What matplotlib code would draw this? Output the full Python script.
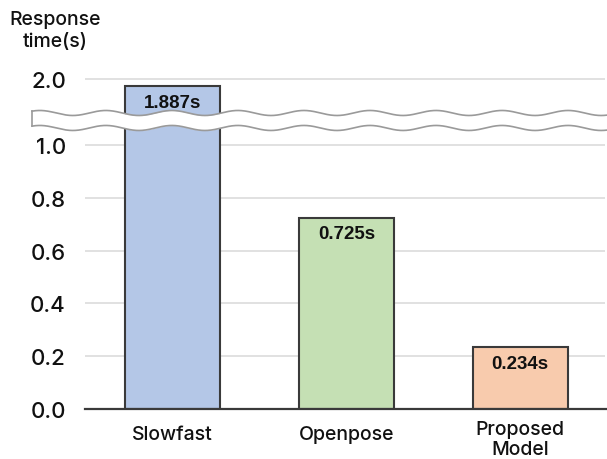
import numpy as np
import matplotlib
matplotlib.use("Agg")
import matplotlib.pyplot as plt
from matplotlib.transforms import ScaledTranslation

# data
categories = ["Slowfast", "Openpose", "Proposed\nModel"]
response_times = [1.887, 0.725, 0.234]
value_labels = ["1.887s", "0.725s", "0.234s"]
bar_colors = ["#b4c7e7", "#c5e0b4", "#f8cbad"]
y_ticks = [0.0, 0.2, 0.4, 0.6, 0.8, 1.0, 2.0]
y_tick_labels = ["0.0", "0.2", "0.4", "0.6", "0.8", "1.0", "2.0"]

# compressed upper segment above 1.0 (broken axis)
K = 0.25


def fwd(y):
    y = np.asarray(y, dtype=float)
    return np.where(y <= 1.0, y, 1.0 + (y - 1.0) * K)


def inv(t):
    t = np.asarray(t, dtype=float)
    return np.where(t <= 1.0, t, 1.0 + (t - 1.0) / K)


W, H = 607, 460
fig = plt.figure(figsize=(W / 100, H / 100), dpi=100)
ax = fig.add_axes([85 / W, 50 / H, 522 / W, 330 / H])
ax.set_yscale("function", functions=(fwd, inv))
ax.set_ylim(0, 2.0)
ax.set_xlim(-0.504, 2.5)

x = np.arange(len(categories))
ax.bar(x, response_times, width=0.547, color=bar_colors,
       edgecolor="#3a3a3a", linewidth=1.5, zorder=2)

# horizontal gridlines
for t in y_ticks[1:]:
    ax.plot([-0.504, 2.49], [t, t], color="#d9d9d9", lw=1.1,
            zorder=0, clip_on=False, solid_capstyle="butt")

# value labels inside the bars
for xi, v, lab in zip(x, response_times, value_labels):
    ax.annotate(lab, (xi, v), xytext=(0, -11.5), textcoords="offset points",
                ha="center", va="center", fontsize=13.5, fontweight="bold",
                family="Liberation Sans", color="#111111", zorder=2.5)

# axis styling
for s in ["left", "top", "right"]:
    ax.spines[s].set_visible(False)
ax.spines["bottom"].set_color("#3a3a3a")
ax.spines["bottom"].set_linewidth(1.6)
ax.spines["bottom"].set_zorder(3)

ax.set_yticks(y_ticks)
ax.set_yticklabels(y_tick_labels, family="Inter", fontsize=16,
                   fontweight="medium", color="#111111")
ax.yaxis.set_minor_locator(matplotlib.ticker.NullLocator())
ax.tick_params(axis="y", length=0, pad=13.7)

ax.set_xticks(x)
ax.set_xticklabels(categories, family="Inter", fontsize=14, fontweight="medium",
                   color="#111111", va="center", linespacing=1.2)
ax.tick_params(axis="x", length=0, pad=18)
for lbl in ax.get_xticklabels():
    if "\n" in lbl.get_text():
        lbl.set_transform(lbl.get_transform()
                          + ScaledTranslation(0, -5 / 100, fig.dpi_scale_trans))

# axis break: white band bounded by two wavy lines
xs = np.linspace(-0.809, 2.5, 800)
period = 0.38
phase = 2.276
amp = 0.038
wave = amp * np.cos(2 * np.pi * (xs - phase) / period)
top = 1.485 + wave
bot = 1.258 + wave
ax.fill_between(xs, bot, top, color="white", zorder=3, clip_on=False, lw=0)
wave_kw = dict(color="#9a9a9a", lw=1.2, zorder=5, clip_on=False)
ax.plot(xs, top, **wave_kw)
ax.plot(xs, bot, **wave_kw)
ax.plot([xs[0], xs[0]], [bot[0], top[0]], **wave_kw)

# y-axis title
fig.text(55 / W, 1 - 31 / H, "Response\ntime(s)", ha="center", va="center",
         family="Inter", fontsize=14, fontweight="medium", color="#111111",
         linespacing=1.25)

fig.savefig("out.png", dpi=100, facecolor="white")
